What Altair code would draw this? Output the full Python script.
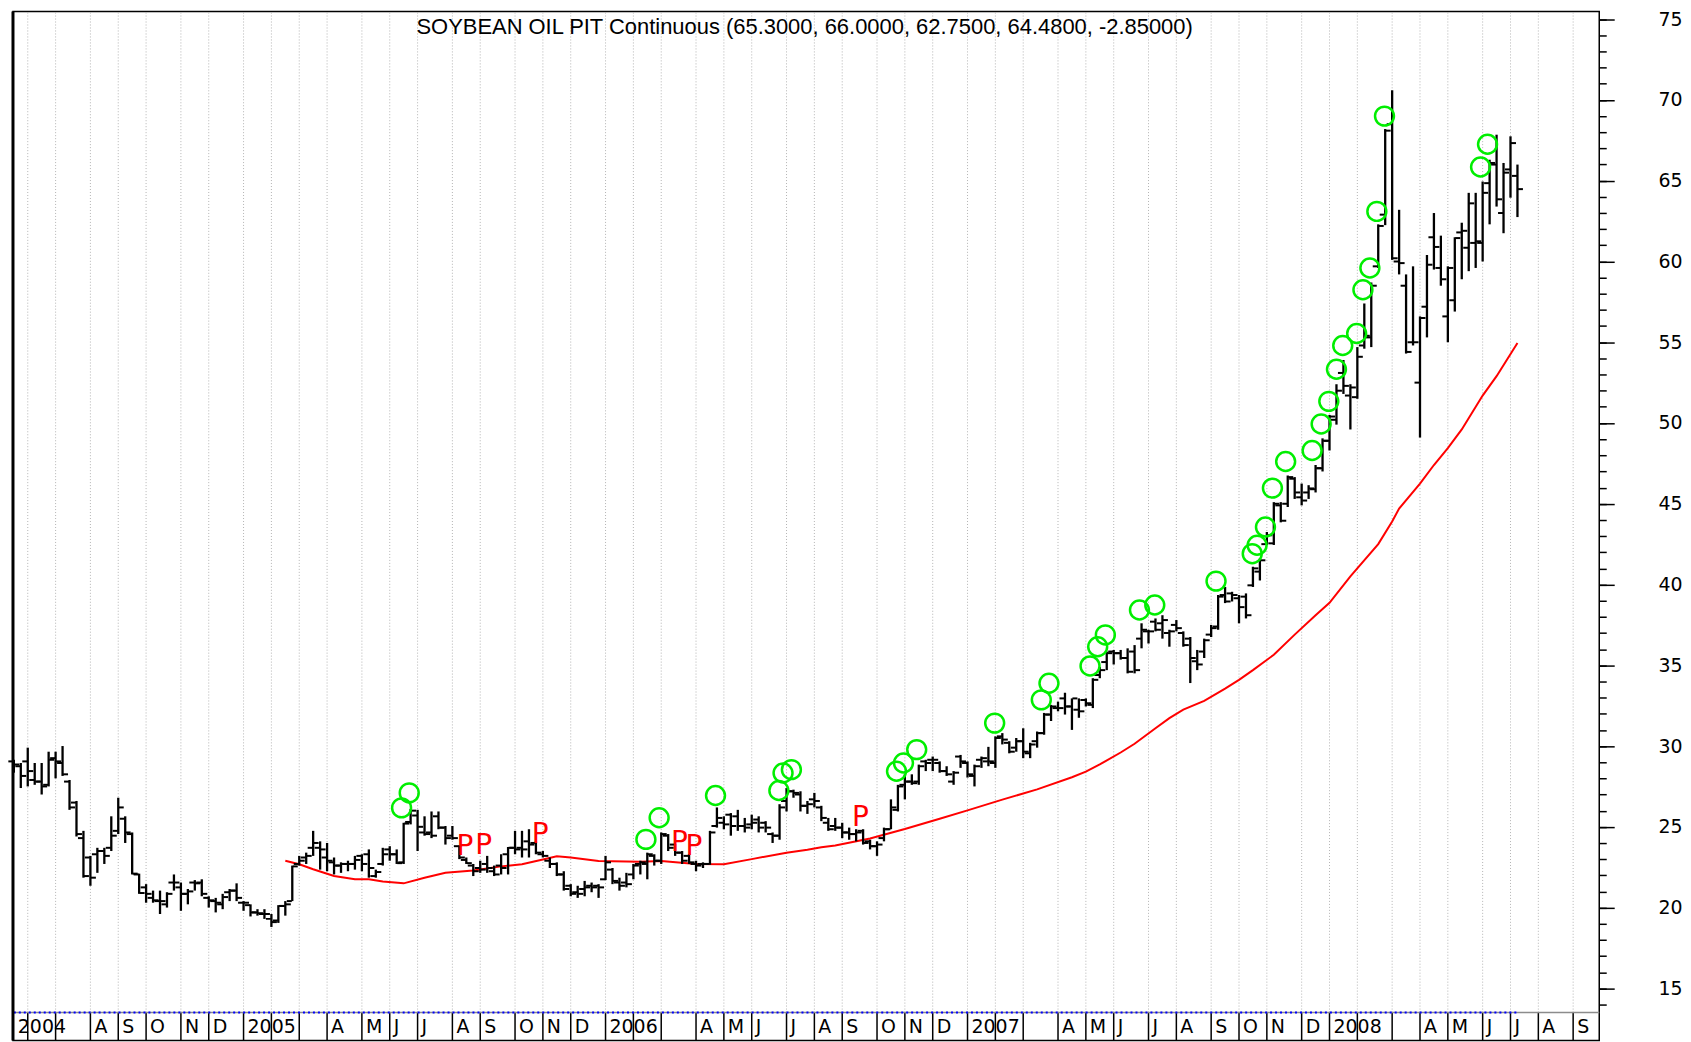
import altair as alt
import numpy as np
import pandas as pd

# ------------------------------------------------------------------ data
START = "2004-05-21"   # first weekly bar (Friday)

bar_open = [
    29.05, 28.75, 29.05, 27.9, 27.8, 27.6, 29.25, 28.95, 27.8, 26.5,
    24.3, 23.1, 23.3, 23.5, 23.7, 24.75, 25.5, 24.55, 22.05, 21.25,
    20.6, 20.4, 20.2, 21.55, 21.25, 20.85, 21.55, 21.55, 20.6, 20.4,
    20.2, 20.95, 21.05, 20.3, 20.15, 19.7, 19.6, 19.3, 19.2, 20.1,
    20.4, 22.7, 23.1, 23.7, 23.7, 23.1, 22.8, 22.6, 22.7, 22.7,
    23.2, 23.3, 21.95, 22.7, 23.6, 23.3, 22.8, 25.3, 25.7, 24.65,
    24.65, 25.65, 24.95, 24.45, 23.8, 22.95, 22.6, 22.45, 22.7, 22.25,
    22.6, 23.3, 23.7, 23.7, 24.1, 24.0, 23.3, 22.9, 22.7, 22.05,
    21.35, 20.95, 21.15, 21.35, 21.35, 21.75, 22.35, 21.55, 21.55, 22.05,
    22.7, 22.7, 23.2, 22.9, 24.45, 23.9, 23.4, 23.2, 22.7, 22.7,
    22.7, 25.05, 25.25, 25.75, 25.65, 25.05, 25.15, 25.45, 25.25, 24.55,
    24.45, 26.6, 27.2, 27.0, 26.3, 26.7, 26.2, 25.25, 25.05, 24.95,
    24.65, 24.55, 24.75, 24.1, 23.8, 24.3, 24.85, 26.05, 27.6, 27.8,
    27.8, 29.05, 29.15, 28.95, 28.45, 27.8, 29.35, 28.95, 28.15, 29.15,
    29.05, 28.95, 30.6, 30.2, 29.9, 30.3, 29.55, 30.3, 30.8, 31.95,
    32.35, 32.95, 32.45, 32.25, 32.85, 32.55, 34.4, 35.2, 35.85, 35.75,
    35.45, 35.85, 36.65, 37.1, 37.7, 37.6, 37.0, 37.5, 37.0, 36.65,
    35.25, 35.85, 36.9, 37.4, 39.35, 39.45, 39.15, 39.25, 39.95, 40.8,
    42.5, 42.55, 44.9, 45.0, 46.55, 45.4, 45.7, 45.9, 47.2, 48.9,
    50.2, 53.1, 51.7, 51.6, 54.8, 55.3, 59.7, 62.9, 68.5, 60.0,
    58.5, 55.0, 52.5, 57.2, 61.5, 59.6, 56.6, 57.6, 61.8, 60.85,
    61.15, 61.15, 64.85, 66.0, 63.0, 65.7, 65.3,
]
bar_high = [
    29.15, 28.95, 29.9, 28.95, 28.95, 29.65, 29.65, 30.0, 27.9, 26.6,
    24.75, 23.2, 23.7, 23.7, 25.65, 26.8, 25.65, 24.65, 22.1, 21.45,
    21.05, 21.05, 20.95, 22.05, 21.55, 21.15, 21.7, 21.75, 20.7, 20.6,
    20.85, 21.15, 21.5, 20.4, 20.2, 19.9, 19.9, 19.6, 20.15, 20.4,
    22.6, 23.2, 23.4, 24.75, 24.1, 24.0, 23.1, 22.8, 22.9, 23.2,
    23.3, 23.6, 22.35, 23.7, 23.8, 23.6, 25.25, 26.1, 26.05, 25.65,
    25.95, 25.95, 25.05, 25.05, 23.85, 23.1, 22.7, 22.9, 23.2, 22.6,
    23.3, 23.75, 24.75, 24.75, 24.85, 24.1, 23.5, 23.1, 22.8, 22.25,
    21.45, 21.35, 21.65, 21.55, 21.45, 23.2, 22.45, 21.85, 22.15, 22.7,
    22.9, 23.4, 23.3, 24.65, 24.55, 23.95, 23.5, 23.3, 22.9, 22.8,
    24.75, 26.2, 25.65, 25.85, 26.05, 25.55, 25.75, 25.65, 25.35, 24.65,
    26.4, 27.4, 27.3, 27.2, 26.6, 27.1, 26.3, 25.55, 25.55, 25.25,
    24.95, 24.85, 24.85, 24.2, 24.1, 24.95, 26.7, 27.6, 28.25, 28.25,
    28.85, 29.15, 29.35, 29.05, 28.75, 28.45, 29.45, 29.05, 28.85, 29.35,
    29.95, 30.6, 30.8, 30.3, 30.5, 31.1, 30.2, 30.9, 32.05, 32.55,
    32.75, 33.3, 32.95, 32.95, 32.95, 34.2, 34.9, 35.85, 35.95, 35.95,
    36.05, 36.25, 37.6, 37.2, 37.9, 38.1, 37.2, 37.8, 37.1, 36.75,
    35.95, 36.65, 37.5, 39.35, 39.85, 39.55, 39.35, 39.45, 41.1, 41.6,
    43.25, 45.1, 45.1, 46.75, 46.65, 46.25, 46.15, 47.4, 49.05, 50.5,
    52.4, 53.9, 52.4, 54.7, 57.4, 58.7, 62.3, 68.2, 70.6, 63.2,
    59.2, 59.7, 56.6, 60.4, 63.0, 61.6, 59.7, 61.5, 62.4, 64.25,
    64.25, 64.95, 66.3, 67.85, 66.1, 67.75, 66.0,
]
bar_low = [
    28.35, 27.4, 27.5, 27.6, 27.0, 27.5, 28.0, 28.15, 26.05, 24.4,
    21.85, 21.35, 22.15, 22.7, 23.5, 24.55, 24.0, 22.05, 20.85, 20.3,
    20.3, 19.6, 20.0, 21.05, 19.8, 20.2, 21.05, 20.7, 20.0, 19.7,
    19.9, 20.4, 20.4, 19.8, 19.45, 19.5, 19.3, 18.8, 19.05, 19.5,
    20.4, 22.6, 22.7, 23.2, 22.35, 22.25, 22.05, 22.15, 22.25, 22.35,
    22.25, 21.85, 21.85, 22.6, 22.9, 22.7, 22.7, 25.15, 23.5, 24.45,
    24.3, 24.85, 23.9, 24.2, 23.0, 22.7, 21.95, 22.15, 22.15, 21.95,
    22.05, 22.05, 23.3, 23.1, 23.1, 23.3, 23.1, 22.45, 21.95, 21.05,
    20.7, 20.6, 20.7, 20.95, 20.6, 21.7, 21.45, 21.05, 21.25, 21.75,
    22.05, 21.75, 22.6, 22.7, 23.5, 23.2, 22.7, 22.7, 22.25, 22.45,
    22.65, 24.95, 24.85, 24.45, 24.75, 24.65, 24.85, 24.65, 24.65, 24.0,
    24.2, 25.95, 26.8, 25.95, 25.8, 26.2, 25.35, 24.75, 24.75, 24.3,
    24.2, 24.1, 23.9, 23.6, 23.2, 24.1, 24.85, 25.95, 26.7, 27.6,
    27.6, 28.45, 28.45, 28.35, 28.15, 27.6, 28.65, 28.05, 27.5, 28.65,
    28.75, 28.65, 30.1, 29.55, 29.65, 29.25, 29.25, 29.9, 30.7, 31.55,
    32.15, 31.95, 31.0, 31.75, 32.45, 32.35, 34.2, 34.7, 35.05, 35.35,
    34.5, 34.5, 36.05, 36.35, 37.1, 36.65, 36.15, 37.1, 36.15, 33.9,
    34.7, 35.45, 36.75, 37.2, 38.85, 38.95, 37.6, 37.9, 39.85, 40.25,
    42.45, 42.45, 43.85, 44.8, 45.3, 44.9, 45.3, 45.7, 47.0, 48.3,
    49.9, 51.8, 49.6, 51.5, 54.6, 54.7, 59.6, 62.25, 60.1, 59.2,
    54.3, 54.8, 49.1, 55.3, 59.5, 58.5, 55.0, 56.9, 58.9, 59.4,
    59.6, 60.0, 62.3, 63.4, 61.75, 63.95, 62.75,
]
bar_close = [
    28.85, 28.15, 28.45, 27.8, 27.5, 29.15, 29.05, 28.25, 26.2, 24.55,
    21.95, 21.85, 23.5, 23.2, 24.45, 26.2, 24.65, 22.1, 20.9, 20.85,
    20.45, 20.4, 20.85, 21.55, 20.85, 21.0, 21.5, 20.85, 20.45, 20.3,
    20.65, 21.05, 20.6, 20.3, 19.7, 19.65, 19.6, 19.1, 20.1, 20.2,
    22.55, 22.9, 23.2, 24.0, 23.6, 22.9, 22.6, 22.7, 22.7, 22.95,
    22.7, 22.45, 22.2, 23.3, 23.3, 22.75, 25.2, 26.0, 25.0, 24.55,
    24.45, 24.95, 24.3, 24.3, 23.1, 22.75, 22.25, 22.35, 22.45, 22.05,
    22.45, 23.7, 23.6, 23.6, 23.9, 23.4, 23.2, 22.7, 22.05, 21.15,
    20.85, 20.85, 21.25, 21.25, 21.25, 22.8, 21.65, 21.35, 21.45, 22.6,
    22.8, 23.3, 22.9, 24.55, 23.7, 23.4, 22.9, 22.8, 22.6, 22.7,
    24.65, 25.55, 25.15, 25.05, 25.05, 24.95, 25.25, 24.95, 24.95, 24.45,
    26.2, 27.2, 27.1, 26.3, 26.4, 26.6, 25.55, 24.85, 24.95, 24.65,
    24.55, 24.65, 24.0, 23.8, 23.9, 24.85, 26.2, 27.5, 27.8, 27.7,
    28.75, 28.95, 29.15, 28.45, 28.25, 28.35, 29.05, 28.25, 28.75, 29.25,
    29.05, 30.5, 30.4, 29.65, 30.3, 29.65, 30.1, 30.8, 31.95, 32.45,
    32.35, 32.45, 32.95, 32.15, 32.65, 34.1, 34.7, 35.75, 35.75, 35.45,
    34.6, 34.7, 37.2, 37.1, 37.2, 37.8, 37.1, 37.3, 36.25, 35.45,
    35.05, 36.55, 37.3, 39.25, 38.95, 39.35, 38.6, 38.1, 41.0, 41.5,
    43.05, 45.0, 43.95, 46.65, 45.7, 45.2, 45.95, 47.2, 48.9, 50.4,
    52.0, 52.3, 52.2, 54.1, 55.4, 58.5, 62.2, 68.1, 60.2, 59.9,
    54.4, 55.0, 56.5, 59.8, 60.9, 58.9, 59.6, 61.45, 61.9, 63.6,
    61.25, 64.25, 66.1, 63.85, 65.5, 67.33, 64.48,
]

# red moving-average line (week index, value)
ma_week = [39, 41, 43, 46, 49, 51, 53, 56, 59, 62,
           66, 70, 73, 76, 78, 80, 84, 90, 93, 98,
           102, 106, 111, 114, 116, 118, 123, 128, 133, 137,
           142, 147, 152, 154, 156, 159, 161, 164, 166, 168,
           171, 174, 176, 178, 181, 184, 187, 189, 192, 196,
           198, 199, 202, 204, 206, 208, 211, 213, 216]
ma_value = [22.9, 22.68, 22.37, 21.96, 21.75, 21.75, 21.62, 21.5, 21.85, 22.16,
            22.3, 22.55, 22.68, 22.97, 23.18, 23.1, 22.88, 22.84, 22.88, 22.7,
            22.68, 23.0, 23.4, 23.58, 23.73, 23.84, 24.28, 24.86, 25.5, 26.02,
            26.68, 27.32, 28.07, 28.42, 28.86, 29.6, 30.14, 31.1, 31.73, 32.25,
            32.8, 33.55, 34.1, 34.7, 35.65, 36.9, 38.1, 38.87, 40.5, 42.5,
            43.9, 44.7, 46.25, 47.4, 48.45, 49.6, 51.7, 52.9, 54.95]

# green circles (week position, value)
circle_week = [55.7, 56.8, 90.8, 92.7, 100.8, 109.9, 110.5, 111.7, 126.8, 127.8,
               129.7, 140.9, 147.6, 148.7, 154.6, 155.7, 156.8, 161.7, 163.9, 172.7,
               177.9, 178.6, 179.8, 180.8, 182.7, 186.5, 187.8, 188.9, 190.0, 190.9,
               192.9, 193.8, 194.8, 195.8, 196.9, 210.7, 211.7]
circle_value = [26.17, 27.1, 24.22, 25.56, 26.94, 27.25, 28.33, 28.54, 28.44, 28.95,
                29.78, 31.42, 32.86, 33.89, 34.96, 36.15, 36.88, 38.42, 38.73, 40.21,
                41.91, 42.43, 43.56, 45.97, 47.62, 48.3, 49.94, 51.34, 53.33, 54.8,
                55.54, 58.25, 59.6, 63.1, 69.0, 65.85, 67.26]

# red "P" markers (week position, value)
p_week = [64.8, 67.5, 75.6, 95.6, 97.7, 121.6]
p_value = [23.72, 23.82, 24.49, 24.02, 23.77, 25.56]

# first weekly bar of every month (grid lines / separators)
month_dates = [
    "2004-06-04", "2004-07-02", "2004-08-06", "2004-09-03", "2004-10-01", "2004-11-05", "2004-12-03",
    "2005-01-07", "2005-02-04", "2005-03-04", "2005-04-01", "2005-05-06", "2005-06-03",
    "2005-07-01", "2005-08-05", "2005-09-02", "2005-10-07", "2005-11-04", "2005-12-02",
    "2006-01-06", "2006-02-03", "2006-03-03", "2006-04-07", "2006-05-05", "2006-06-02",
    "2006-07-07", "2006-08-04", "2006-09-01", "2006-10-06", "2006-11-03", "2006-12-01",
    "2007-01-05", "2007-02-02", "2007-03-02", "2007-04-06", "2007-05-04", "2007-06-01",
    "2007-07-06", "2007-08-03", "2007-09-07", "2007-10-05", "2007-11-02", "2007-12-07",
    "2008-01-04", "2008-02-01", "2008-03-07", "2008-04-04", "2008-05-02", "2008-06-06",
    "2008-07-04", "2008-08-01", "2008-09-05",
]
label_dates = [
    "2004-05-21", "2004-08-06", "2004-09-03", "2004-10-01", "2004-11-05", "2004-12-03",
    "2005-01-07", "2005-04-01", "2005-05-06", "2005-06-03", "2005-07-01", "2005-08-05",
    "2005-09-02", "2005-10-07", "2005-11-04", "2005-12-02",
    "2006-01-06", "2006-04-07", "2006-05-05", "2006-06-02", "2006-07-07", "2006-08-04",
    "2006-09-01", "2006-10-06", "2006-11-03", "2006-12-01",
    "2007-01-05", "2007-04-06", "2007-05-04", "2007-06-01", "2007-07-06", "2007-08-03",
    "2007-09-07", "2007-10-05", "2007-11-02", "2007-12-07",
    "2008-01-04", "2008-04-04", "2008-05-02", "2008-06-06", "2008-07-04", "2008-08-01",
    "2008-09-05",
]
label_texts = [
    "2004", "A", "S", "O", "N", "D",
    "2005", "A", "M", "J", "J", "A", "S", "O", "N", "D",
    "2006", "A", "M", "J", "J", "A", "S", "O", "N", "D",
    "2007", "A", "M", "J", "J", "A", "S", "O", "N", "D",
    "2008", "A", "M", "J", "J", "A", "S",
]

y_label_values = list(range(15, 80, 5))
y_tick_values = list(range(14, 76))
title_text = "SOYBEAN OIL PIT Continuous (65.3000, 66.0000, 62.7500, 64.4800, -2.85000)"

# ------------------------------------------------------------------ frames
def week_to_date(weeks):
    ts = pd.Timestamp(START) + pd.to_timedelta(np.asarray(weeks, dtype=float) * 7, unit="D")
    return list(ts.strftime("%Y-%m-%dT%H:%M:%SZ"))

bar_dates = list(pd.date_range(START, periods=len(bar_close), freq="7D").strftime("%Y-%m-%d"))
bars = pd.DataFrame({"date": bar_dates, "open": bar_open, "high": bar_high,
                     "low": bar_low, "close": bar_close})
ma_df = pd.DataFrame({"date": week_to_date(ma_week), "value": ma_value})
circ_df = pd.DataFrame({"date": week_to_date(circle_week), "value": circle_value})
p_df = pd.DataFrame({"date": week_to_date(p_week), "value": p_value})
month_df = pd.DataFrame({"date": month_dates})
label_df = pd.DataFrame({"date": label_dates, "label": label_texts})
span_df = pd.DataFrame({"s": [bar_dates[0]], "e": [bar_dates[-1]]})
title_df = pd.DataFrame({"t": [title_text]})

# ------------------------------------------------------------------ scales
W, H = 1591, 1032
V_TOP, V_BOTTOM, V_AXIS = 75.475, 11.772, 13.5
V_LABEL = 12.6

ms = lambda s: int(pd.Timestamp(s).value // 10**6)
xs = alt.Scale(domain=[ms("2004-05-20 03:36"), ms("2008-10-01 06:00")], nice=False)
ys = alt.Scale(domain=[V_BOTTOM, V_TOP], nice=False, zero=False)

major_axis = alt.Axis(
    orient="right", values=y_label_values, title=None, domain=False, grid=False,
    tickSize=15, tickColor="black", tickWidth=1.5,
    labelFont="DejaVu Sans", labelFontSize=19, labelColor="black",
    labelPadding=44, labelOverlap=False, labelFlush=False,
)
minor_axis = alt.Axis(
    orient="right", values=y_tick_values, title=None, domain=False, grid=False,
    tickSize=7, tickColor="black", tickWidth=1.5, labels=False,
)

X = lambda f: alt.X(f, type="temporal", scale=xs, axis=None)

grid = alt.Chart(month_df).mark_rule(color="#B4B4B4", strokeWidth=1, strokeDash=[1, 2]).encode(
    x=X("date"), y=alt.YDatum(V_AXIS, scale=ys, axis=None), y2=alt.Y2Datum(V_TOP))

seps = alt.Chart(month_df).mark_rule(color="black", strokeWidth=1.5).encode(
    x=X("date"), y=alt.YDatum(V_AXIS, scale=ys, axis=None), y2=alt.Y2Datum(V_BOTTOM))

base_line = alt.Chart(title_df).mark_rule(color="#8C8C8C", strokeWidth=1.5).encode(
    x=alt.value(0), x2=alt.value(W), y=alt.YDatum(V_AXIS, scale=ys, axis=None))

blue_line = alt.Chart(span_df).mark_rule(color="#0000FF", strokeWidth=2, strokeDash=[2, 3]).encode(
    x=X("s"), x2="e:T", y=alt.YDatum(V_AXIS, scale=ys, axis=None))

left_border = alt.Chart(title_df).mark_rule(color="black", strokeWidth=3).encode(
    x=alt.value(0), y=alt.value(0), y2=alt.value(H))

labels = alt.Chart(label_df).mark_text(
    font="DejaVu Sans", fontSize=19, color="black", align="left", baseline="middle", dx=4
).encode(x=X("date"), y=alt.YDatum(V_LABEL, scale=ys, axis=None), text="label:N")

ma_line = alt.Chart(ma_df).mark_line(color="#FF0000", strokeWidth=2).encode(
    x=X("date"), y=alt.Y("value:Q", scale=ys, axis=None))

hl = alt.Chart(bars).mark_rule(color="black", strokeWidth=2.3).encode(
    x=X("date"), y=alt.Y("low:Q", scale=ys, axis=major_axis), y2="high:Q")

op = alt.Chart(bars).mark_tick(orient="horizontal", color="black", size=5, thickness=2,
                               xOffset=-3, opacity=1).encode(
    x=X("date"), y=alt.Y("open:Q", scale=ys, axis=minor_axis))

cl = alt.Chart(bars).mark_tick(orient="horizontal", color="black", size=5, thickness=2,
                               xOffset=3, opacity=1).encode(
    x=X("date"), y=alt.Y("close:Q", scale=ys, axis=None))

circles = alt.Chart(circ_df).mark_point(shape="circle", filled=False, size=360,
                                         color="#00EE00", strokeWidth=2.5, opacity=1).encode(
    x=X("date"), y=alt.Y("value:Q", scale=ys, axis=None))

pmarks = alt.Chart(p_df).mark_text(text="P", color="#FF0000", font="DejaVu Sans", fontSize=28,
                                   align="center", baseline="middle").encode(
    x=X("date"), y=alt.Y("value:Q", scale=ys, axis=None))

title = alt.Chart(title_df).mark_text(font="Liberation Sans", fontSize=22, color="black",
                                      align="center", baseline="middle").encode(
    text="t:N", x=alt.value(794), y=alt.value(16))

chart = alt.layer(
    grid, seps, base_line, blue_line, labels, ma_line, hl, op, cl, circles, pmarks, title,
    left_border,
).resolve_axis(y="independent").properties(
    width=W, height=H, padding=0
).configure_view(stroke="black", strokeWidth=1.5)

chart.save("out.html", embed_options={"renderer": "svg", "actions": False})
